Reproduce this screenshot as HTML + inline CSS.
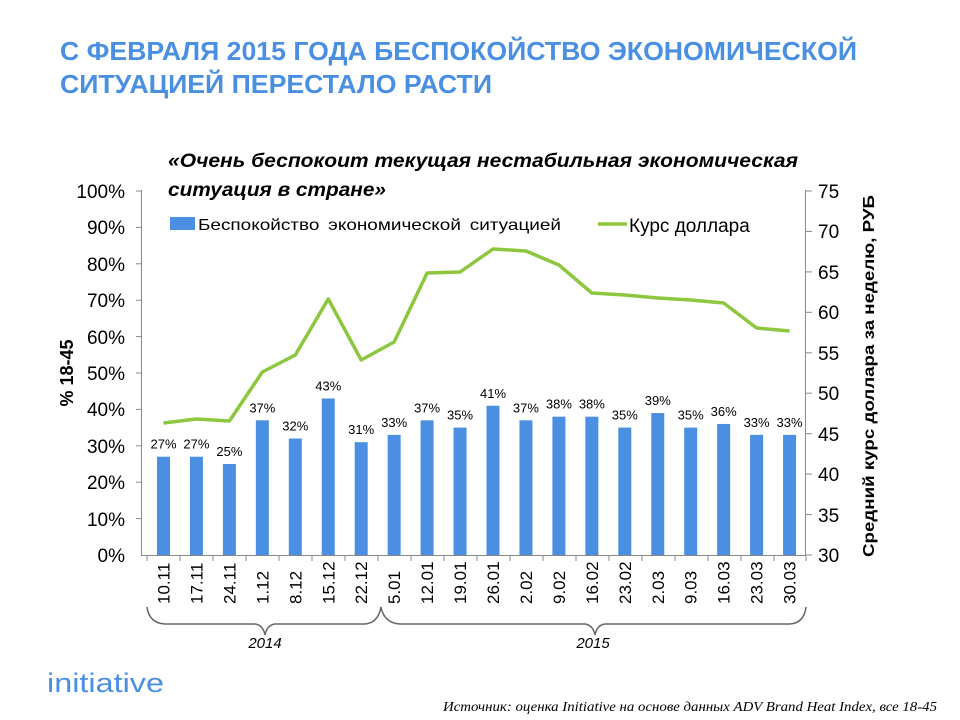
<!DOCTYPE html>
<html><head><meta charset="utf-8"><style>
html,body{margin:0;padding:0;background:#fff;}
svg{display:block;font-family:"Liberation Sans","DejaVu Sans",sans-serif;}
</style></head><body>
<svg width="960" height="720" viewBox="0 0 960 720" xmlns="http://www.w3.org/2000/svg">
<text x="60" y="60" font-size="26" font-weight="bold" fill="#4a8fe2" textLength="797" lengthAdjust="spacingAndGlyphs">С ФЕВРАЛЯ 2015 ГОДА БЕСПОКОЙСТВО ЭКОНОМИЧЕСКОЙ</text>
<text x="60" y="93" font-size="26" font-weight="bold" fill="#4a8fe2" textLength="432" lengthAdjust="spacingAndGlyphs">СИТУАЦИЕЙ ПЕРЕСТАЛО РАСТИ</text>
<text x="168" y="167" font-size="19" font-weight="bold" font-style="italic" fill="#000" textLength="630" lengthAdjust="spacingAndGlyphs">«Очень беспокоит текущая нестабильная экономическая</text>
<text x="168" y="196" font-size="19" font-weight="bold" font-style="italic" fill="#000" textLength="218" lengthAdjust="spacingAndGlyphs">ситуация в стране»</text>

<g stroke="#888" stroke-width="1">
<line x1="141.5" y1="190" x2="141.5" y2="556"/>
<line x1="141" y1="555.5" x2="806" y2="555.5"/>
<line x1="805.5" y1="190" x2="805.5" y2="556"/>
</g>
<g stroke="#888" stroke-width="1">
<line x1="136" y1="191" x2="141" y2="191"/><line x1="136" y1="227.4" x2="141" y2="227.4"/><line x1="136" y1="263.8" x2="141" y2="263.8"/><line x1="136" y1="300.2" x2="141" y2="300.2"/><line x1="136" y1="336.6" x2="141" y2="336.6"/><line x1="136" y1="373" x2="141" y2="373"/><line x1="136" y1="409.4" x2="141" y2="409.4"/><line x1="136" y1="445.8" x2="141" y2="445.8"/><line x1="136" y1="482.2" x2="141" y2="482.2"/><line x1="136" y1="518.6" x2="141" y2="518.6"/>
<line x1="806" y1="191" x2="812" y2="191"/><line x1="806" y1="231.4" x2="812" y2="231.4"/><line x1="806" y1="271.9" x2="812" y2="271.9"/><line x1="806" y1="312.3" x2="812" y2="312.3"/><line x1="806" y1="352.8" x2="812" y2="352.8"/><line x1="806" y1="393.2" x2="812" y2="393.2"/><line x1="806" y1="433.7" x2="812" y2="433.7"/><line x1="806" y1="474.1" x2="812" y2="474.1"/><line x1="806" y1="514.6" x2="812" y2="514.6"/><line x1="806" y1="555" x2="812" y2="555"/>
</g>
<g stroke="#888" stroke-width="1">
<line x1="147" y1="556" x2="147" y2="561"/><line x1="180" y1="556" x2="180" y2="561"/><line x1="213" y1="556" x2="213" y2="561"/><line x1="246" y1="556" x2="246" y2="561"/><line x1="279" y1="556" x2="279" y2="561"/><line x1="312" y1="556" x2="312" y2="561"/><line x1="345" y1="556" x2="345" y2="561"/><line x1="378" y1="556" x2="378" y2="561"/><line x1="411" y1="556" x2="411" y2="561"/><line x1="444" y1="556" x2="444" y2="561"/><line x1="477" y1="556" x2="477" y2="561"/><line x1="510" y1="556" x2="510" y2="561"/><line x1="543" y1="556" x2="543" y2="561"/><line x1="576" y1="556" x2="576" y2="561"/><line x1="609" y1="556" x2="609" y2="561"/><line x1="642" y1="556" x2="642" y2="561"/><line x1="675" y1="556" x2="675" y2="561"/><line x1="708" y1="556" x2="708" y2="561"/><line x1="741" y1="556" x2="741" y2="561"/><line x1="774" y1="556" x2="774" y2="561"/><line x1="806" y1="556" x2="806" y2="561"/>
</g>
<g font-size="19" fill="#000" text-anchor="end">
<text x="125" y="198">100%</text><text x="125" y="234">90%</text><text x="125" y="271">80%</text><text x="125" y="307">70%</text><text x="125" y="344">60%</text><text x="125" y="380">50%</text><text x="125" y="416">40%</text><text x="125" y="453">30%</text><text x="125" y="489">20%</text><text x="125" y="526">10%</text><text x="125" y="562">0%</text>
</g>
<g font-size="19" fill="#000">
<text x="818" y="198">75</text><text x="818" y="238">70</text><text x="818" y="279">65</text><text x="818" y="319">60</text><text x="818" y="360">55</text><text x="818" y="400">50</text><text x="818" y="441">45</text><text x="818" y="481">40</text><text x="818" y="522">35</text><text x="818" y="562">30</text>
</g>
<text transform="translate(73,373) rotate(-90)" font-size="18" font-weight="bold" text-anchor="middle">% 18-45</text>
<text transform="translate(874,376) rotate(-90)" font-size="16" font-weight="bold" text-anchor="middle" textLength="362" lengthAdjust="spacingAndGlyphs">Средний курс доллара за неделю, РУБ</text>

<g fill="#4a8fe2" id="bars"></g>
<g font-size="13" fill="#000" text-anchor="middle" id="lbls"></g>
<polyline id="ln" fill="none" stroke="#8dc63f" stroke-width="3.5" stroke-linejoin="round" points=""/>
<g font-size="17" fill="#000" id="cats"></g>

<rect x="170" y="217" width="25" height="13" fill="#4a8fe2"/>
<text x="198" y="230" font-size="16" fill="#000" word-spacing="3" textLength="363" lengthAdjust="spacingAndGlyphs">Беспокойство экономической ситуацией</text>
<line x1="598" y1="224" x2="627" y2="224" stroke="#8dc63f" stroke-width="3.5"/>
<text x="629" y="232" font-size="19" fill="#000">Курс доллара</text>

<path d="M147,607 Q149,623 165,624 L255,624 Q263,625 265,635 Q267,625 275,624 L365,624 Q378,623 381,607" fill="none" stroke="#666" stroke-width="1.5"/>
<path d="M381,607 Q384,623 400,624 L585,624 Q593,625 595,635 Q597,625 605,624 L790,624 Q804,623 806,607" fill="none" stroke="#666" stroke-width="1.5"/>
<text x="265" y="648" font-size="15" font-style="italic" text-anchor="middle">2014</text>
<text x="593" y="648" font-size="15" font-style="italic" text-anchor="middle">2015</text>

<text x="47" y="692" font-size="27" fill="#4a8fe2" textLength="117" lengthAdjust="spacingAndGlyphs">initiative</text>
<text x="443" y="711" font-size="14" font-style="italic" font-family="Liberation Serif,serif" textLength="494" lengthAdjust="spacingAndGlyphs">Источник: оценка Initiative на основе данных ADV Brand Heat Index, все 18-45</text>
</svg>
<script>
var vals=[27,27,25,37,32,43,31,33,37,35,41,37,38,38,35,39,35,36,33,33];
var cats=["10.11","17.11","24.11","1.12","8.12","15.12","22.12","5.01","12.01","19.01","26.01","2.02","9.02","16.02","23.02","2.03","9.03","16.03","23.03","30.03"];
var ly=[423,419,421,372,355,299,360,342,273,272,249,251,265,293,295,298,300,303,328,331];
var ns="http://www.w3.org/2000/svg",b=document.getElementById("bars"),l=document.getElementById("lbls"),c=document.getElementById("cats"),pts=[];
for(var i=0;i<20;i++){var cx=163.5+32.95*i,h=vals[i]*3.64,y=555-h;
var r=document.createElementNS(ns,"rect");r.setAttribute("x",cx-6.5);r.setAttribute("y",y);r.setAttribute("width",13);r.setAttribute("height",h);b.appendChild(r);
var t=document.createElementNS(ns,"text");t.setAttribute("x",cx);t.setAttribute("y",y-8);t.textContent=vals[i]+"%";l.appendChild(t);
var u=document.createElementNS(ns,"text");u.setAttribute("transform","translate("+(cx+6)+",604) rotate(-90)");u.textContent=cats[i];c.appendChild(u);
pts.push(cx+","+ly[i]);}
document.getElementById("ln").setAttribute("points",pts.join(" "));
</script>
</body></html>
